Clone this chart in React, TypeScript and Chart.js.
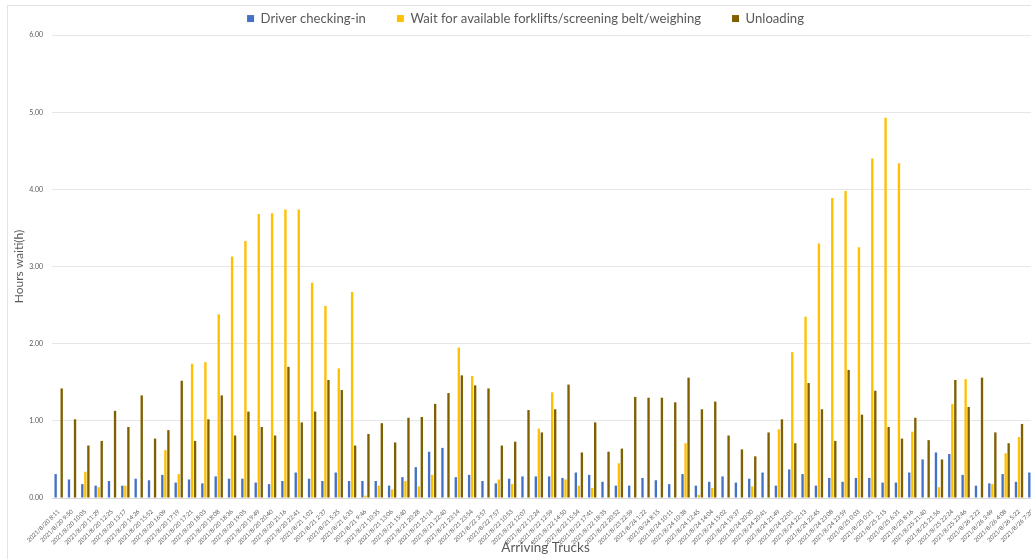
import React, { useEffect, useRef } from "react";
import { Chart, registerables } from "chart.js";

Chart.register(...registerables);

const labels: string[] = [
  "2021/8/20 8:11", "2021/8/20 9:50", "2021/8/20 10:05", "2021/8/20 11:29", "2021/8/20 12:25",
  "2021/8/20 13:17", "2021/8/20 14:26", "2021/8/20 15:52", "2021/8/20 16:09", "2021/8/20 17:19",
  "2021/8/20 17:21", "2021/8/20 18:03", "2021/8/20 18:08", "2021/8/20 18:36", "2021/8/20 19:05",
  "2021/8/20 19:49", "2021/8/20 20:40", "2021/8/20 21:16", "2021/8/20 22:41", "2021/8/21 1:02",
  "2021/8/21 2:37", "2021/8/21 5:25", "2021/8/21 6:33", "2021/8/21 9:46", "2021/8/21 10:35",
  "2021/8/21 13:06", "2021/8/21 15:40", "2021/8/21 20:28", "2021/8/21 21:14", "2021/8/21 22:40",
  "2021/8/21 23:14", "2021/8/21 23:54", "2021/8/22 3:57", "2021/8/22 7:57", "2021/8/22 10:53",
  "2021/8/22 12:07", "2021/8/22 12:24", "2021/8/22 12:59", "2021/8/22 14:50", "2021/8/22 15:54",
  "2021/8/22 17:41", "2021/8/22 18:35", "2021/8/22 20:52", "2021/8/23 22:59", "2021/8/24 1:22",
  "2021/8/24 8:15", "2021/8/24 10:11", "2021/8/24 10:38", "2021/8/24 12:45", "2021/8/24 14:04",
  "2021/8/24 15:02", "2021/8/24 19:37", "2021/8/24 20:30", "2021/8/24 20:41", "2021/8/24 21:49",
  "2021/8/24 22:01", "2021/8/24 22:13", "2021/8/24 22:45", "2021/8/24 23:08", "2021/8/24 23:59",
  "2021/8/25 0:03", "2021/8/25 0:21", "2021/8/25 2:15", "2021/8/25 6:31", "2021/8/25 8:16",
  "2021/8/25 21:40", "2021/8/25 21:56", "2021/8/25 22:24", "2021/8/25 23:46", "2021/8/26 2:22",
  "2021/8/26 3:49", "2021/8/26 4:08", "2021/8/26 5:22", "2021/8/26 7:20",
];

const driverCheckIn: number[] = [
  0.31, 0.24, 0.18, 0.16, 0.22, 0.16, 0.25, 0.23, 0.30, 0.20,
  0.24, 0.19, 0.28, 0.25, 0.25, 0.20, 0.18, 0.22, 0.33, 0.25,
  0.22, 0.33, 0.22, 0.22, 0.22, 0.16, 0.27, 0.40, 0.60, 0.65,
  0.27, 0.30, 0.22, 0.19, 0.25, 0.28, 0.28, 0.28, 0.26, 0.33,
  0.30, 0.21, 0.16, 0.16, 0.26, 0.23, 0.18, 0.31, 0.16, 0.21,
  0.28, 0.20, 0.25, 0.33, 0.16, 0.37, 0.31, 0.16, 0.26, 0.21,
  0.26, 0.26, 0.20, 0.20, 0.33, 0.50, 0.59, 0.57, 0.30, 0.16,
  0.19, 0.31, 0.21, 0.33,
];

const waitForForklifts: number[] = [
  0, 0, 0.34, 0.14, 0, 0.16, 0, 0, 0.62, 0.31,
  1.74, 1.76, 2.38, 3.13, 3.33, 3.68, 3.69, 3.74, 3.74, 2.79,
  2.49, 1.68, 2.67, 0.03, 0.16, 0.11, 0.22, 0.15, 0.30, 0,
  1.95, 1.58, 0, 0.24, 0.18, 0, 0.90, 1.37, 0.24, 0.16,
  0.13, 0, 0.45, 0, 0, 0, 0, 0.71, 0.04, 0.13,
  0, 0, 0.15, 0, 0.89, 1.89, 2.35, 3.30, 3.89, 3.98,
  3.25, 4.40, 4.93, 4.34, 0.86, 0, 0.14, 1.22, 1.54, 0,
  0.18, 0.58, 0.79, 0,
];

const unloading: number[] = [
  1.42, 1.02, 0.68, 0.74, 1.13, 0.92, 1.33, 0.77, 0.88, 1.52,
  0.74, 1.02, 1.33, 0.81, 1.12, 0.92, 0.81, 1.70, 0.98, 1.12,
  1.53, 1.40, 0.68, 0.83, 0.97, 0.72, 1.04, 1.05, 1.22, 1.36,
  1.59, 1.46, 1.42, 0.68, 0.73, 1.14, 0.85, 1.15, 1.47, 0.59,
  0.98, 0.60, 0.64, 1.31, 1.30, 1.30, 1.24, 1.56, 1.15, 1.25,
  0.81, 0.63, 0.54, 0.85, 1.02, 0.71, 1.49, 1.15, 0.74, 1.66,
  1.08, 1.39, 0.92, 0.77, 1.04, 0.75, 0.50, 1.53, 1.18, 1.56,
  0.85, 0.71, 0.96, 0.90,
];

const seriesNames: string[] = [
  "Driver checking-in",
  "Wait for available forklifts/screening belt/weighing",
  "Unloading",
];

const FONT = "Lato, 'Liberation Sans', sans-serif";
const TEXT = "#595959";

export default function App() {
  const ref = useRef<HTMLCanvasElement | null>(null);

  useEffect(() => {
    if (!ref.current) return;
    const chart = new Chart(ref.current, {
      type: "bar",
      data: {
        labels,
        datasets: [
          { label: seriesNames[0], data: driverCheckIn, backgroundColor: "#4472C4" },
          { label: seriesNames[1], data: waitForForklifts, backgroundColor: "#FFC000" },
          { label: seriesNames[2], data: unloading, backgroundColor: "#7F6000" },
        ],
      },
      options: {
        responsive: false,
        animation: false,
        layout: { padding: { left: 12, right: 3, top: -19, bottom: 0 } },
        datasets: { bar: { categoryPercentage: 0.68, barPercentage: 0.78 } },
        plugins: {
          legend: {
            position: "top",
            labels: {
              boxWidth: 7,
              boxHeight: 7,
              padding: 31,
              color: TEXT,
              font: { family: FONT, size: 13.1 },
            },
          },
          tooltip: { enabled: false },
        },
        scales: {
          x: {
            grid: { display: false },
            border: { display: true, color: "#D9D9D9" },
            ticks: {
              autoSkip: false,
              minRotation: 45,
              maxRotation: 45,
              padding: 2,
              color: TEXT,
              font: { family: FONT, size: 6 },
            },
            title: {
              display: true,
              text: "Arriving Trucks",
              color: TEXT,
              font: { family: FONT, size: 13.5 },
              padding: { top: 0, bottom: 3 },
            },
            afterFit: (scale: any) => {
              scale.height = 61;
            },
          },
          y: {
            min: 0,
            max: 6,
            grid: { color: "#E6E6E6", drawTicks: false },
            border: { display: false },
            ticks: {
              stepSize: 1,
              padding: 9,
              color: TEXT,
              font: { family: FONT, size: 7 },
              callback: (v: any) => Number(v).toFixed(2),
            },
            title: {
              display: true,
              text: "Hours waiti(h)",
              color: TEXT,
              font: { family: FONT, size: 12 },
              padding: { top: 0, bottom: 0 },
            },
            afterFit: (scale: any) => {
              scale.width = 40;
            },
          },
        },
      },
    });
    return () => chart.destroy();
  }, []);

  return (
    <div
      style={{
        position: "fixed",
        left: 0,
        top: 0,
        width: 1031,
        height: 559,
        overflow: "hidden",
        background: "#fff",
      }}
    >
      <div
        style={{
          position: "absolute",
          left: 7,
          top: 5,
          width: 1100,
          height: 600,
          borderLeft: "1px solid #E3E3E3",
          borderTop: "1px solid #E3E3E3",
        }}
      />
      <canvas ref={ref} width={1042} height={559} style={{ position: "absolute", left: 0, top: 0 }} />
    </div>
  );
}
